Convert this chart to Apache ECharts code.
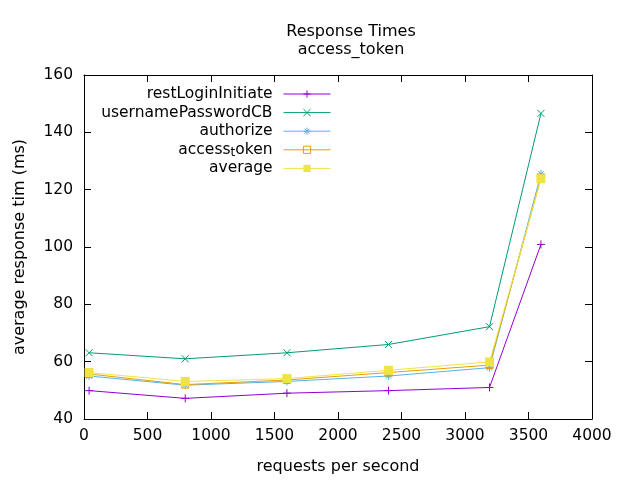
<!DOCTYPE html>
<html>
<head>
<meta charset="utf-8">
<script src="https://cdn.jsdelivr.net/npm/echarts@6/dist/echarts.min.js"></script>
<style>html,body{margin:0;padding:0;background:#fff}#c{width:640px;height:480px}</style>
</head>
<body>
<div id="c"></div>
<script>
var xValues = [40, 797, 1598, 2398, 3193, 3598];
var restLoginInitiate = [49.9, 47.2, 49.0, 49.9, 51.0, 100.9];
var usernamePasswordCB = [63.1, 61.0, 63.1, 66.0, 72.2, 146.6];
var authorize = [55.0, 51.8, 53.1, 55.0, 57.9, 125.5];
var accessToken = [55.7, 52.0, 53.6, 56.2, 58.8, 124.0];
var average = [56.2, 53.1, 54.1, 57.0, 59.9, 123.8];
var seriesNames = ['restLoginInitiate', 'usernamePasswordCB', 'authorize', 'access_token', 'average'];
var legendLabels = ['restLoginInitiate', 'usernamePasswordCB', 'authorize', 'access{t|t}oken', 'average'];

var colors = ['#9400d3', '#009e73', '#56b4e9', '#e69f00', '#f0e442'];
var symbols = [
  'path://M0,5L10,5M5,0L5,10',
  'path://M0,0L10,10M0,10L10,0',
  'path://M0,5L10,5M5,0L5,10M1.5,1.5L8.5,8.5M1.5,8.5L8.5,1.5',
  'rect',
  'rect'
];
var symbolSizes = [8, 7, 8, 7, 9];
var allValues = [restLoginInitiate, usernamePasswordCB, authorize, accessToken, average];
var FONT = 'DejaVu Sans';
var FS = 16;

function zip(xs, ys) { return xs.map(function (x, i) { return [x, ys[i]]; }); }

var series = allValues.map(function (vals, i) {
  var isOpen = i === 3;
  var isFilled = i === 4;
  return {
    name: seriesNames[i],
    type: 'line',
    data: zip(xValues, vals),
    symbol: symbols[i],
    symbolSize: symbolSizes[i],
    showAllSymbol: true,
    lineStyle: { color: colors[i], width: 1 },
    itemStyle: {
      color: isFilled ? colors[i] : (isOpen ? 'rgba(0,0,0,0)' : colors[i]),
      borderColor: colors[i],
      borderWidth: isFilled ? 0 : 1
    },
    emphasis: { disabled: true },
    z: 2 + i
  };
});

var legends = seriesNames.map(function (n, i) {
  return {
    data: [n],
    right: 309,
    top: 86 + i * 18.6,
    align: 'right',
    orient: 'vertical',
    itemWidth: 47,
    itemHeight: 9,
    padding: 0,
    selectedMode: false,
    lineStyle: { width: 1 },
    itemStyle: { borderWidth: i === 4 ? 0 : 1 },
    formatter: function () { return legendLabels[i]; },
    textStyle: {
      fontFamily: FONT, fontSize: 15.5, color: '#000', padding: [0, 6, 0, 0],
      rich: { t: { fontFamily: FONT, fontSize: 12, color: '#000', verticalAlign: 'bottom', padding: [7, 0, 0, 0] } }
    }
  };
});

var axisLabelStyle = { fontFamily: FONT, fontSize: 15.5, color: '#000', formatter: function (v) { return String(v); } };

var option = {
  animation: false,
  backgroundColor: '#fff',
  title: {
    text: 'Response Times\naccess_token',
    left: 346,
    top: 18,
    textAlign: 'center',
    textStyle: { fontFamily: FONT, fontSize: FS, fontWeight: 'normal', color: '#000', lineHeight: 18 }
  },
  legend: legends,
  grid: { left: 84, right: 48, top: 75, bottom: 60, containLabel: false },
  xAxis: [{
    type: 'value', min: 0, max: 4000, interval: 500,
    name: 'requests per second', nameLocation: 'middle', nameGap: 40,
    nameTextStyle: { fontFamily: FONT, fontSize: FS, color: '#000' },
    axisLine: { show: true, onZero: false, lineStyle: { color: '#000', width: 1 } },
    axisTick: { show: true, inside: true, length: 7, lineStyle: { color: '#000' } },
    axisLabel: Object.assign({ margin: 9 }, axisLabelStyle),
    splitLine: { show: false }
  }, {
    type: 'value', min: 0, max: 4000, interval: 500, position: 'top',
    axisLine: { show: true, onZero: false, lineStyle: { color: '#000', width: 1 } },
    axisTick: { show: true, inside: true, length: 7, lineStyle: { color: '#000' } },
    axisLabel: { show: false }, splitLine: { show: false }
  }],
  yAxis: [{
    type: 'value', min: 40, max: 160, interval: 20,
    name: 'average response tim (ms)', nameLocation: 'middle', nameGap: 56,
    nameTextStyle: { fontFamily: FONT, fontSize: FS, color: '#000' },
    axisLine: { show: true, onZero: false, lineStyle: { color: '#000', width: 1 } },
    axisTick: { show: true, inside: true, length: 7, lineStyle: { color: '#000' } },
    axisLabel: Object.assign({ margin: 11 }, axisLabelStyle),
    splitLine: { show: false }
  }, {
    type: 'value', min: 40, max: 160, interval: 20, position: 'right',
    axisLine: { show: true, onZero: false, lineStyle: { color: '#000', width: 1 } },
    axisTick: { show: true, inside: true, length: 7, lineStyle: { color: '#000' } },
    axisLabel: { show: false }, splitLine: { show: false }
  }],
  series: series
};

var chart = echarts.init(document.getElementById('c'), null, { renderer: 'canvas' });
chart.setOption(option);
</script>
</body>
</html>
